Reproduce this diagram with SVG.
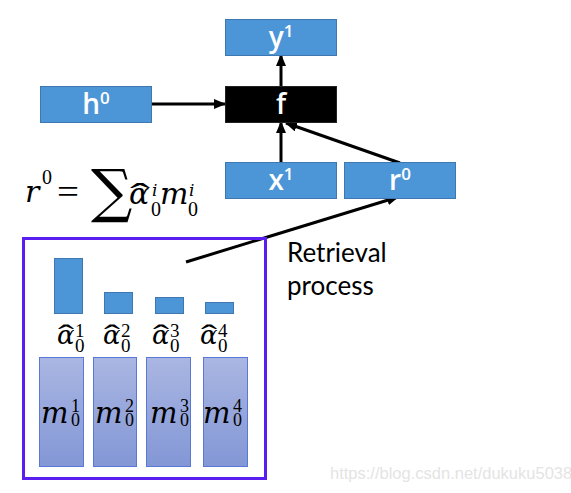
<svg xmlns="http://www.w3.org/2000/svg" width="571" height="493" viewBox="0 0 571 493">
<style>
.box{fill:#4c96d8;stroke:#3f78b0;stroke-width:1}
.lbl{font-family:"Open Sans",Lato,sans-serif;font-size:28px;font-weight:600;fill:#ffffff;text-anchor:middle}
.sup{font-size:17px}
.conn{stroke:#000;stroke-width:3;fill:none}
.math{font-family:"DejaVu Serif","Liberation Serif",serif;font-style:italic;fill:#000}
.num{font-family:"Liberation Serif","DejaVu Serif",serif;font-style:normal;fill:#000}
.hat{font-family:"Liberation Serif","DejaVu Serif",serif;fill:#000}
.bar{fill:#4c96d8;stroke:#3f78b0;stroke-width:1}
.mem{fill:url(#mg);stroke:#5a78d6;stroke-width:1}
.txt{font-family:Lato,"Open Sans",sans-serif;font-size:26px;fill:#000}
</style>
<defs>
<marker id="ah" markerUnits="userSpaceOnUse" markerWidth="12" markerHeight="10" refX="11" refY="5" orient="auto">
<path d="M0,0 L12,5 L0,10 Z" fill="#000"/>
</marker>
<linearGradient id="mg" x1="0" y1="0" x2="0" y2="1">
<stop offset="0" stop-color="#aab6e2"/>
<stop offset="1" stop-color="#8397d6"/>
</linearGradient>
</defs>
<rect width="571" height="493" fill="#ffffff"/>

<g id="connectors">
<line class="conn" x1="152" y1="104" x2="225" y2="104" marker-end="url(#ah)"/>
<line class="conn" x1="281" y1="86" x2="281" y2="55" marker-end="url(#ah)"/>
<line class="conn" x1="281" y1="162" x2="281" y2="122" marker-end="url(#ah)"/>
<line class="conn" x1="400" y1="163" x2="286" y2="123" marker-end="url(#ah)"/>
<line class="conn" x1="186" y1="262" x2="398" y2="197" marker-end="url(#ah)"/>
</g>

<g id="y1">
<rect class="box" x="225.5" y="19.5" width="111" height="36"/>
<text class="lbl" x="281" y="47">y<tspan class="sup" dy="-10">1</tspan></text>
</g>
<g id="h0">
<rect class="box" x="40.5" y="86.5" width="111" height="36"/>
<text class="lbl" x="96" y="114">h<tspan class="sup" dy="-10">0</tspan></text>
</g>
<g id="f">
<rect x="225.5" y="86.5" width="111" height="36" fill="#000" stroke="#222" stroke-width="1"/>
<text class="lbl" x="281" y="114">f</text>
</g>
<g id="x1">
<rect class="box" x="225.5" y="162.5" width="111" height="36"/>
<text class="lbl" x="281" y="190">x<tspan class="sup" dy="-10">1</tspan></text>
</g>
<g id="r0">
<rect class="box" x="344.5" y="162.5" width="111" height="36"/>
<text class="lbl" x="400" y="190">r<tspan class="sup" dy="-10">0</tspan></text>
</g>

<g id="formula">
<text class="math" x="25" y="202" font-size="30">r</text>
<text class="num" x="42" y="184" font-size="20">0</text>
<text class="num" x="57" y="203" font-size="34" textLength="22" lengthAdjust="spacingAndGlyphs">=</text>
<text font-family="'DejaVu Serif',serif" x="91" y="211" font-size="58" fill="#000">∑</text>
<text class="math" x="129" y="204" font-size="30">α</text>
<text class="hat" x="130" y="205" font-size="32" textLength="20" lengthAdjust="spacingAndGlyphs">ˆ</text>
<text class="math" x="152" y="196" font-size="17">i</text>
<text class="num" x="151" y="216" font-size="20">0</text>
<text class="math" x="160" y="204" font-size="30">m</text>
<text class="math" x="189" y="196" font-size="17">i</text>
<text class="num" x="188" y="216" font-size="20">0</text>
</g>

<g id="memory">
<rect x="23.5" y="238.5" width="242" height="240" fill="none" stroke="#5a1ff0" stroke-width="3"/>
</g>

<g id="bars">
<rect class="bar" x="54.5" y="258.5" width="28" height="55"/>
<rect class="bar" x="104.5" y="292.5" width="28" height="21"/>
<rect class="bar" x="155.5" y="297.5" width="28" height="16"/>
<rect class="bar" x="205.5" y="302.5" width="28" height="11"/>
</g>

<g id="alphas">
<text class="math" x="57" y="344" font-size="26">α</text><text class="hat" x="58" y="345" font-size="30" textLength="16" lengthAdjust="spacingAndGlyphs">ˆ</text>
<text class="num" x="75" y="337" font-size="19">1</text><text class="num" x="75" y="352" font-size="19">0</text>
<text class="math" x="103" y="344" font-size="26">α</text><text class="hat" x="104" y="345" font-size="30" textLength="16" lengthAdjust="spacingAndGlyphs">ˆ</text>
<text class="num" x="121" y="337" font-size="19">2</text><text class="num" x="121" y="352" font-size="19">0</text>
<text class="math" x="152" y="344" font-size="26">α</text><text class="hat" x="153" y="345" font-size="30" textLength="16" lengthAdjust="spacingAndGlyphs">ˆ</text>
<text class="num" x="170" y="337" font-size="19">3</text><text class="num" x="170" y="352" font-size="19">0</text>
<text class="math" x="200" y="344" font-size="26">α</text><text class="hat" x="201" y="345" font-size="30" textLength="16" lengthAdjust="spacingAndGlyphs">ˆ</text>
<text class="num" x="218" y="337" font-size="19">4</text><text class="num" x="218" y="352" font-size="19">0</text>
</g>

<g id="m1">
<rect class="mem" x="39.5" y="357.5" width="44" height="109"/>
<text class="math" x="41" y="423" font-size="29">m</text>
<text class="num" x="71" y="412" font-size="18">1</text><text class="num" x="71" y="426" font-size="18">0</text>
</g>
<g id="m2">
<rect class="mem" x="93.5" y="357.5" width="43" height="109"/>
<text class="math" x="95" y="423" font-size="29">m</text>
<text class="num" x="125" y="412" font-size="18">2</text><text class="num" x="125" y="426" font-size="18">0</text>
</g>
<g id="m3">
<rect class="mem" x="146.5" y="357.5" width="44" height="109"/>
<text class="math" x="150" y="423" font-size="29">m</text>
<text class="num" x="180" y="412" font-size="18">3</text><text class="num" x="180" y="426" font-size="18">0</text>
</g>
<g id="m4">
<rect class="mem" x="203.5" y="357.5" width="44" height="109"/>
<text class="math" x="203" y="423" font-size="29">m</text>
<text class="num" x="233" y="412" font-size="18">4</text><text class="num" x="233" y="426" font-size="18">0</text>
</g>

<g id="retrieval-label">
<text class="txt" x="287" y="262">Retrieval</text>
<text class="txt" x="287" y="295">process</text>
</g>

<text x="330" y="479" font-family="'Liberation Sans',Arial,sans-serif" font-size="16.5" fill="#e4e4e4">https://blog.csdn.net/dukuku5038</text>
</svg>
